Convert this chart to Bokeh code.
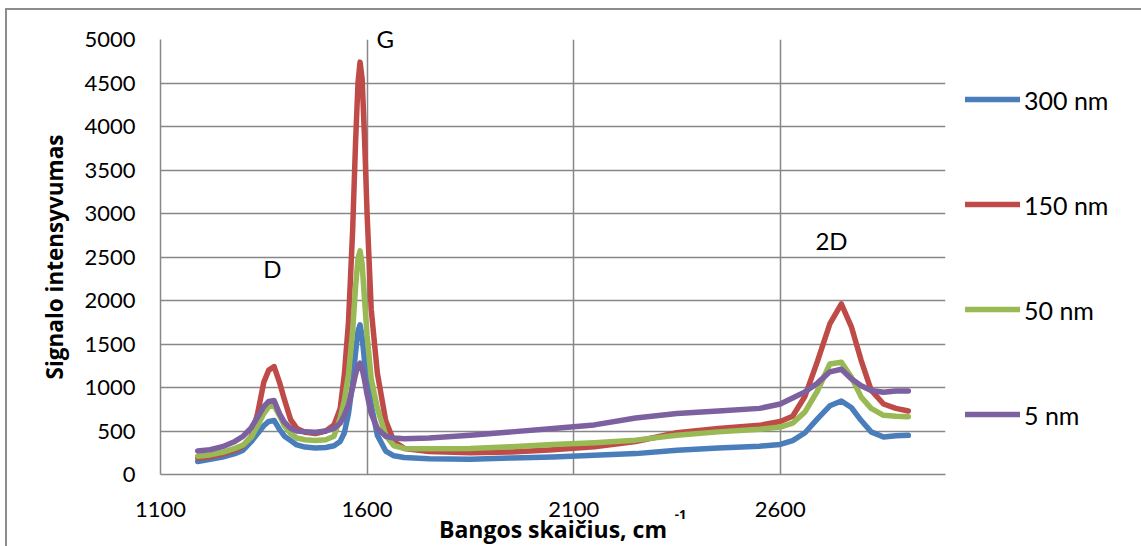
from bokeh.plotting import figure
from bokeh.models import (Range1d, FixedTicker, Legend, LegendItem, Label,
                          Title, LinearAxis)
from bokeh.embed import file_html
from bokeh.resources import INLINE

# ---- data ----
wavenumber = [1190, 1220, 1250, 1280, 1300, 1320, 1335, 1350, 1362, 1375,
              1388, 1400, 1415, 1430, 1450, 1475, 1500, 1520, 1535, 1545,
              1555, 1565, 1572, 1578, 1583, 1588, 1594, 1600, 1610,
              1625, 1645, 1665, 1690,
              1750, 1850, 1950, 2050, 2150, 2250, 2350, 2450, 2550,
              2600, 2630, 2660, 2690, 2720, 2748, 2772, 2796, 2820, 2850,
              2880, 2910]

i_300nm = [150, 175, 200, 240, 280, 380, 470, 560, 610, 620,
           520, 440, 390, 340, 315, 305, 310, 330, 380, 480,
           700, 1050, 1400, 1650, 1720, 1580, 1300, 1150, 800,
           450, 270, 215, 195,
           180, 175, 190, 200, 220, 240, 280, 305, 325,
           345, 390, 480, 640, 790, 845, 770, 620, 490, 430,
           445, 450]

i_150nm = [190, 205, 235, 280, 330, 440, 700, 1060, 1200, 1240,
           1060, 860, 630, 530, 485, 470, 500, 570, 760, 1150,
           1750, 2800, 3800, 4500, 4740, 4550, 3850, 3000, 1900,
           1160, 620, 380, 300,
           265, 250, 260, 285, 320, 380, 480, 530, 565,
           610, 670, 900, 1300, 1730, 1960, 1700, 1310, 970, 810,
           760, 730]

i_50nm = [210, 225, 255, 300, 340, 430, 560, 700, 780, 790,
          680, 560, 470, 420, 400, 390, 400, 440, 650, 850,
          1150, 1650, 2150, 2480, 2570, 2420, 2000, 1600, 1100,
          760, 450, 330, 300,
          295, 300, 320, 345, 365, 395, 450, 490, 520,
          545, 590, 720, 960, 1270, 1290, 1120, 890, 760, 680,
          670, 665]

i_5nm = [270, 285, 320, 380, 440, 540, 660, 780, 840, 850,
         700, 600, 530, 500, 490, 485, 500, 530, 590, 680,
         800, 1000, 1150, 1250, 1280, 1220, 1080, 920, 700,
         530, 440, 420, 410,
         420, 450, 490, 530, 570, 650, 700, 730, 760,
         810, 880, 950, 1050, 1180, 1210, 1100, 1020, 965, 945,
         960, 960]

series_names = ["300 nm", "150 nm", "50 nm", "5 nm"]
series_colors = ["#4A7EBB", "#BE4B48", "#98B954", "#7D60A0"]

x_ticks = [1100, 1600, 2100, 2600]
y_ticks = [0, 500, 1000, 1500, 2000, 2500, 3000, 3500, 4000, 4500, 5000]

inner_labels = ["D", "2D"]
inner_label_x = [1371, 2724]
inner_label_y = [2368, 2690]
top_label = "G"

x_title = "Bangos skaičius, cm"
x_title_sup = "-1"
x_title_sup_at = 2359
y_title = "Signalo intensyvumas"

FONT = "Lato"
TITLE_FONT = "Open Sans"
GRID = "#878787"
FRAME_LINE = "#8c8c8c"

p = figure(frame_width=785, frame_height=435, output_backend="svg",
           toolbar_location=None,
           x_range=Range1d(1100, 3000), y_range=Range1d(0, 5000),
           min_border_left=160, min_border_top=39, min_border_bottom=72,
           min_border_right=196)
p.outline_line_color = None
p.background_fill_color = "white"
p.border_fill_alpha = 0
p.styles = {
    "background-color": "white",
    "background-image": "linear-gradient(%s, %s), linear-gradient(%s, %s)"
                        % (FRAME_LINE, FRAME_LINE, FRAME_LINE, FRAME_LINE),
    "background-size": "100% 2px, 2px 100%",
    "background-position": "6px 8px, 5px 8px",
    "background-repeat": "no-repeat",
}

for ax in (p.xaxis[0], p.yaxis[0]):
    ax.axis_line_color = GRID
    ax.axis_line_width = 1.5
    ax.major_tick_line_color = None
    ax.minor_tick_line_color = None
    ax.major_label_text_font = FONT
    ax.major_label_text_font_size = "22px"
    ax.major_label_text_color = "black"

p.xaxis[0].ticker = FixedTicker(ticks=x_ticks)
p.yaxis[0].ticker = FixedTicker(ticks=y_ticks)
p.xaxis[0].major_label_standoff = 21
p.yaxis[0].major_label_standoff = 19

p.yaxis[0].axis_label = y_title
p.yaxis[0].axis_label_text_font = TITLE_FONT
p.yaxis[0].axis_label_text_font_style = "bold"
p.yaxis[0].axis_label_text_font_size = "22.5px"
p.yaxis[0].axis_label_text_color = "black"
p.yaxis[0].axis_label_standoff = 11

p.xaxis[0].axis_label = x_title
p.xaxis[0].axis_label_text_font = TITLE_FONT
p.xaxis[0].axis_label_text_font_style = "bold"
p.xaxis[0].axis_label_text_font_size = "23px"
p.xaxis[0].axis_label_text_color = "black"
p.xaxis[0].axis_label_standoff = -7

# superscript of the x title, drawn as the only tick label of a bare axis
sup_axis = LinearAxis(ticker=FixedTicker(ticks=[x_title_sup_at]),
                      major_label_overrides={x_title_sup_at: x_title_sup},
                      axis_line_color=None, major_tick_line_color=None,
                      minor_tick_line_color=None, major_tick_out=0,
                      major_tick_in=0, major_label_standoff=-38,
                      major_label_text_font=TITLE_FONT,
                      major_label_text_font_size="13px",
                      major_label_text_font_style="bold",
                      major_label_text_color="black")
p.add_layout(sup_axis, "below")

p.xgrid[0].ticker = FixedTicker(ticks=x_ticks)
p.ygrid[0].ticker = FixedTicker(ticks=y_ticks)
for g in (p.xgrid[0], p.ygrid[0]):
    g.grid_line_color = GRID
    g.grid_line_width = 1.5

series = [i_300nm, i_150nm, i_50nm, i_5nm]
items = []
for name, col, ys in zip(series_names, series_colors, series):
    r = p.line(wavenumber, ys, line_color=col, line_width=5.5,
               line_cap="round", line_join="round")
    items.append(LegendItem(label=name, renderers=[r]))

legend = Legend(items=items, location="center_left", orientation="vertical",
                margin=20, padding=10, glyph_width=55, glyph_height=25,
                label_height=25, label_standoff=4, spacing=75,
                label_text_font=FONT, label_text_font_size="25px",
                label_text_color="black", border_line_color=None,
                background_fill_alpha=0)
p.add_layout(legend, "right")

for t, x, y in zip(inner_labels, inner_label_x, inner_label_y):
    p.add_layout(Label(x=x, y=y, text=t, text_font=FONT, text_font_size="24px",
                       text_color="black", text_align="center",
                       text_baseline="middle"))

p.add_layout(Title(text=top_label, align="left", offset=216, standoff=-28,
                   vertical_align="middle",
                   text_font=FONT, text_font_size="24px",
                   text_font_style="normal", text_color="black"), "above")

open("out.html", "w").write(file_html(p, INLINE))
